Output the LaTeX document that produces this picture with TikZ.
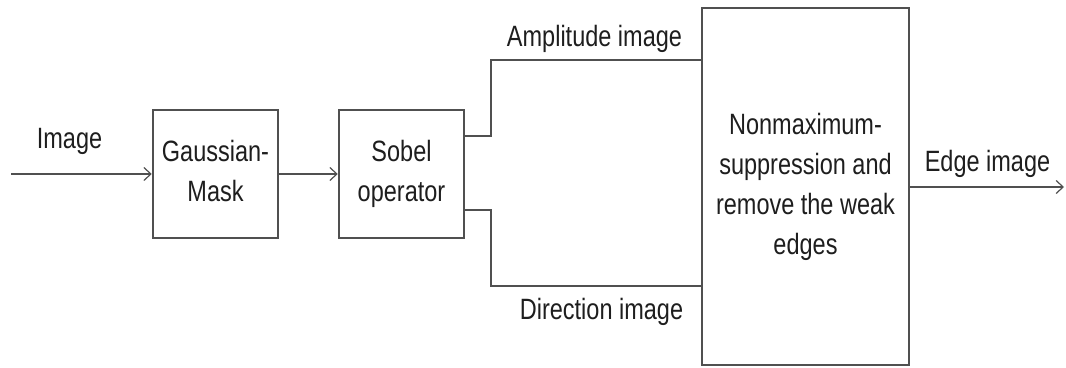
\documentclass[tikz,border=0pt]{standalone}
\usepackage{fontspec}
\usepackage{graphicx}
\setmainfont{Liberation Sans}
\usetikzlibrary{arrows.meta}
\definecolor{linegray}{RGB}{80,80,80}
\definecolor{textgray}{RGB}{30,30,30}
\newcommand{\vs}[1]{\scalebox{1}[1.25]{\begin{tabular}{@{}c@{}}#1\end{tabular}}}
\tikzset{
  box/.style={draw=linegray, line width=2.5pt, fill=white, inner sep=0pt, text=textgray},
  conn/.style={draw=linegray, line width=2.5pt},
  arr/.style={conn, -{Straight Barb[length=7pt,width=13pt,line width=1.2pt]}},
  lbl/.style={anchor=base, inner sep=0pt, text=textgray},
}
\begin{document}
\begin{tikzpicture}[x=1pt,y=1pt,font=\fontsize{23.5}{32}\selectfont]
\useasboundingbox (0,0) rectangle (1066,367);
\node[box, minimum width=125pt, minimum height=128pt] (gauss) at (215.5,193) {\vs{Gaussian-\\Mask}};
\node[box, minimum width=125pt, minimum height=128pt] (sobel) at (401.5,193) {\vs{Sobel\\operator}};
\node[box, minimum width=207pt, minimum height=357pt] (nms) at (805.5,180.5) {\vs{Nonmaximum-\\suppression and\\remove the weak\\edges}};
\coordinate (in) at (11,193);
\coordinate (out) at (1064,180);
\coordinate (a0) at (sobel.east |- 0,231);
\coordinate (a1) at (491,231);
\coordinate (a2) at (491,307);
\coordinate (a3) at (nms.west |- 0,307);
\coordinate (d0) at (sobel.east |- 0,157);
\coordinate (d1) at (491,157);
\coordinate (d2) at (491,81);
\coordinate (d3) at (nms.west |- 0,81);
\draw[arr] (in) -- (gauss.west);
\draw[arr] (gauss.east) -- (sobel.west);
\draw[conn] (a0) -- (a1) -- (a2) -- (a3);
\draw[conn] (d0) -- (d1) -- (d2) -- (d3);
\draw[arr] (nms.east |- out) -- (out);
\node[lbl] (limage) at (69.5,218) {\scalebox{1}[1.25]{Image}};
\node[lbl] (lamp) at (594.5,320) {\scalebox{1}[1.25]{Amplitude image}};
\node[lbl] (ldir) at (601.5,47) {\scalebox{1}[1.25]{Direction image}};
\node[lbl] (ledge) at (987.5,195) {\scalebox{1}[1.25]{Edge image}};
\end{tikzpicture}
\end{document}
